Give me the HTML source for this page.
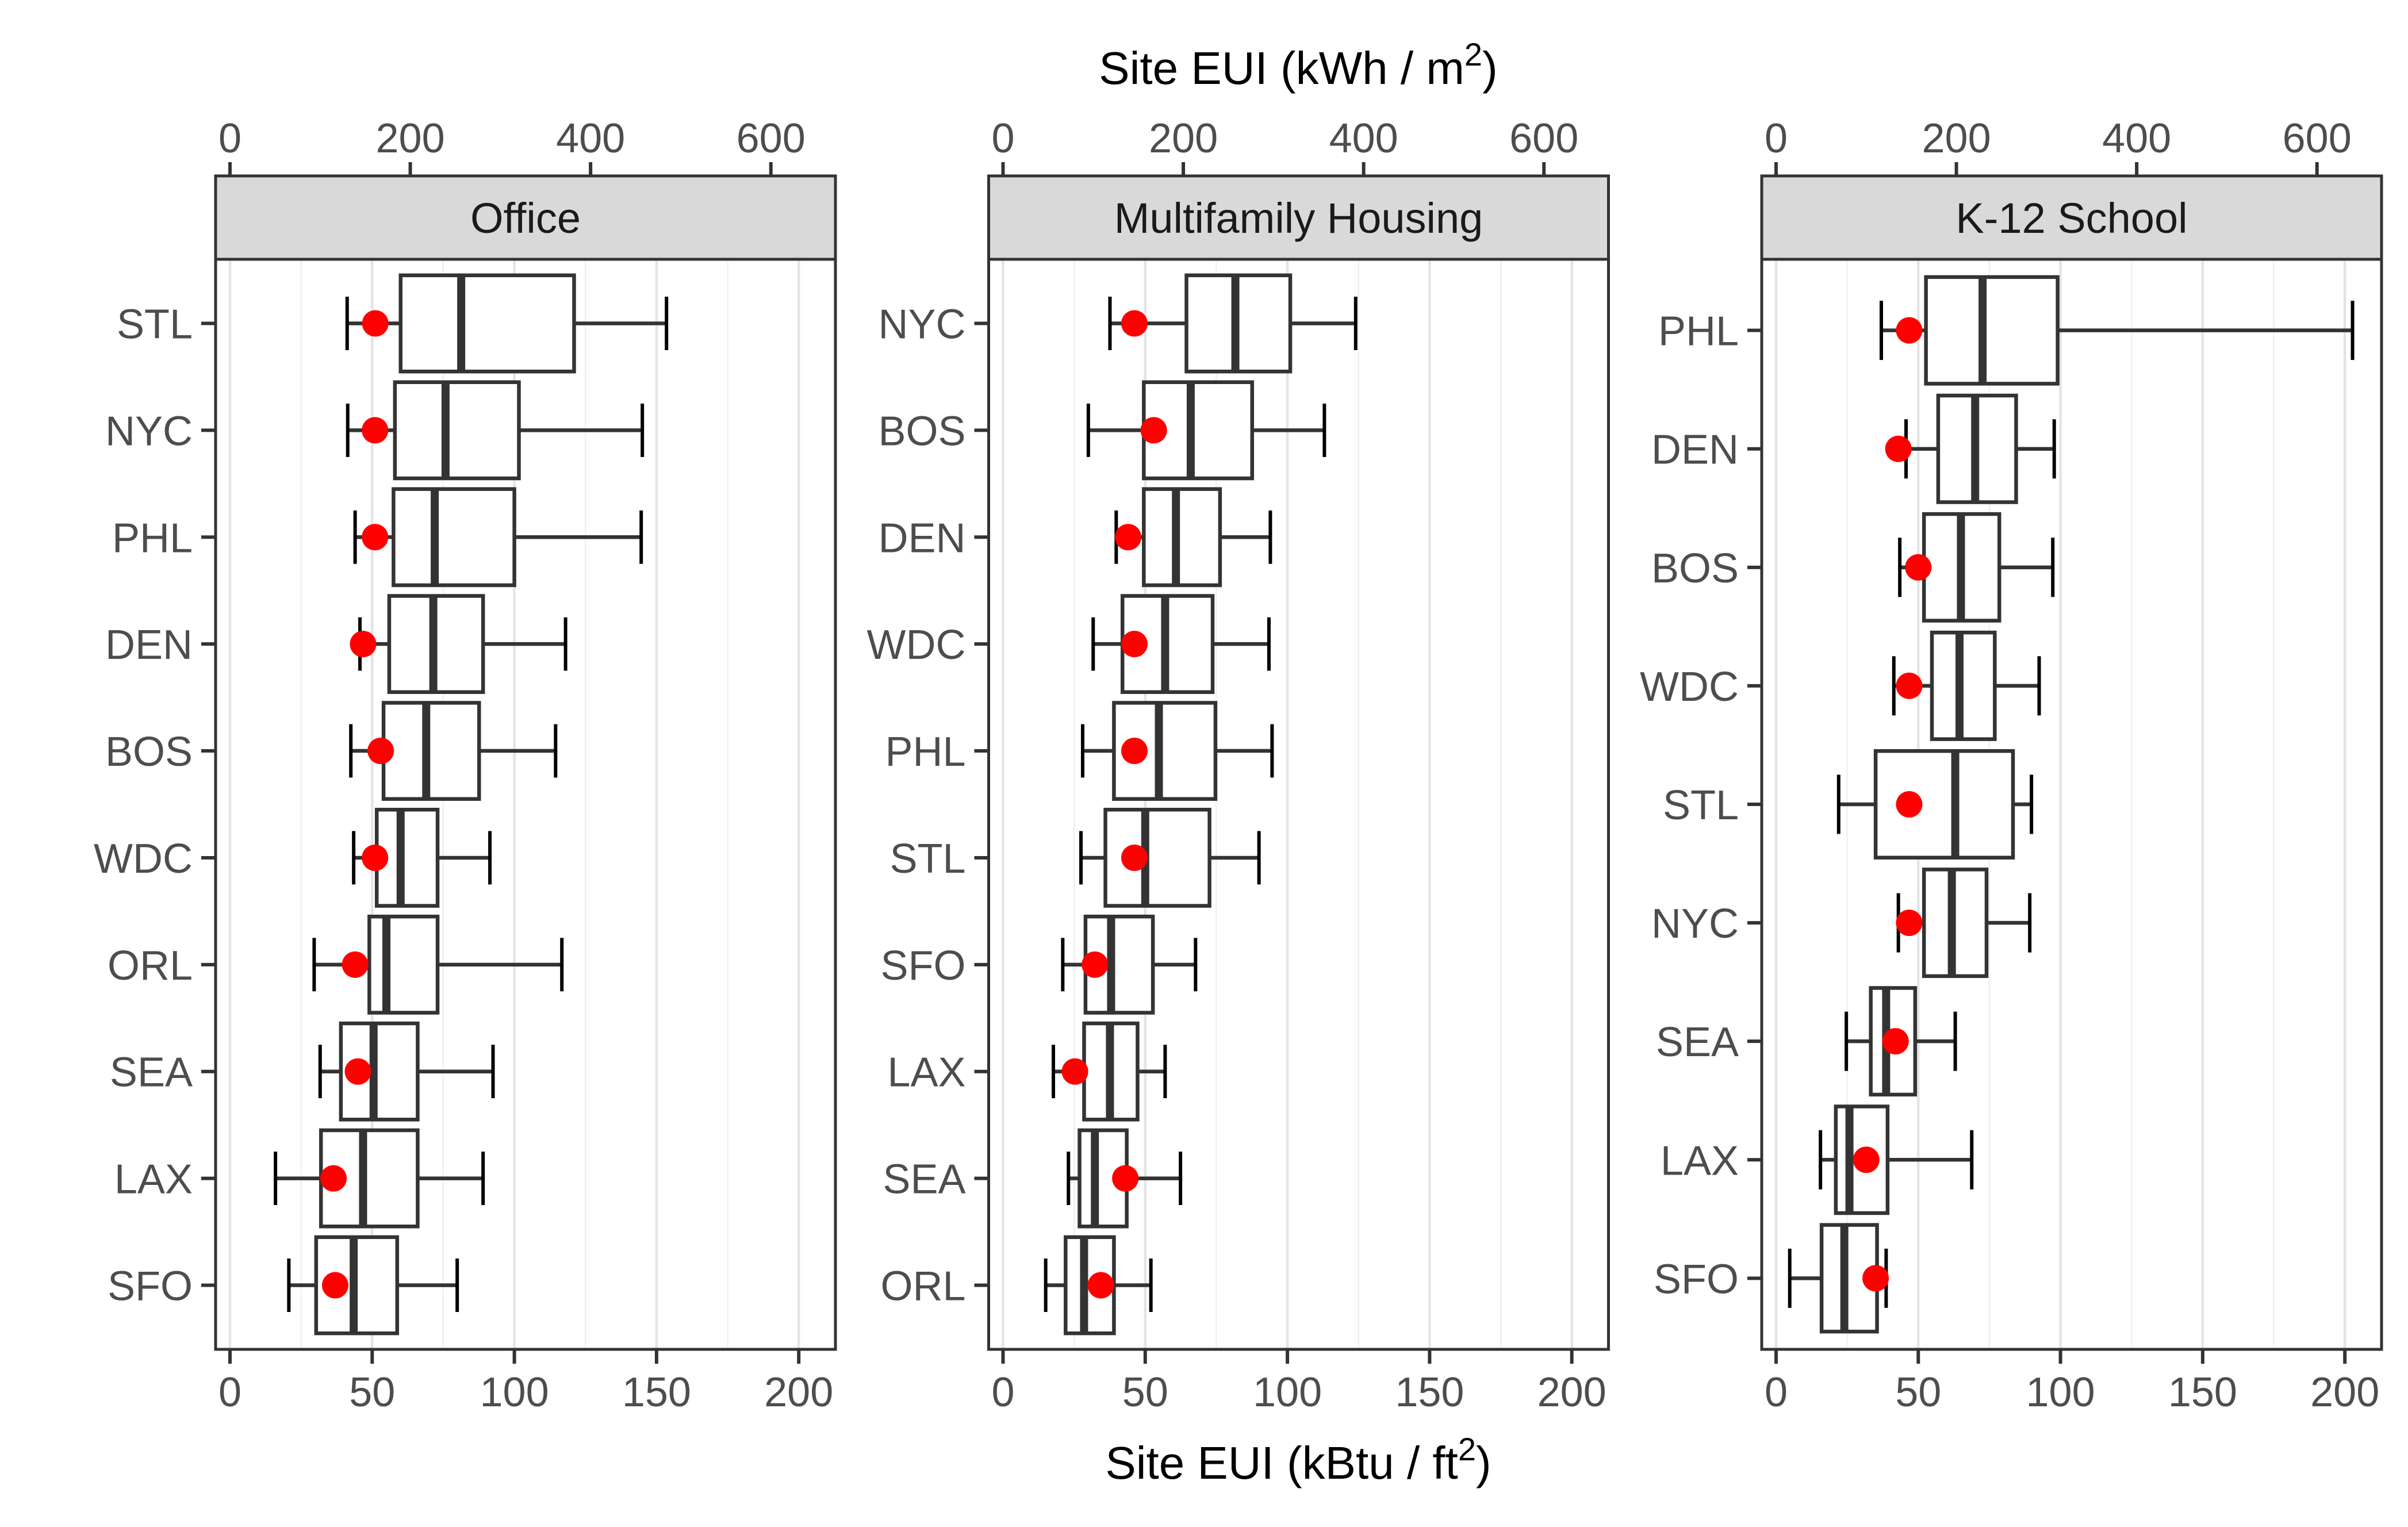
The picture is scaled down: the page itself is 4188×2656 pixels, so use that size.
<!DOCTYPE html>
<html><head><meta charset="utf-8"><style>
html,body{margin:0;padding:0;background:#fff;}
svg{display:block;font-family:"Liberation Sans",Arial,sans-serif;}
</style></head><body>
<svg id="chart" width="4188" height="2656" viewBox="0 0 4188 2656">
<text x="2258" y="146" text-anchor="middle" font-size="80" fill="#000">Site EUI (kWh / m<tspan font-size="56" dy="-32">2</tspan><tspan dy="32">)</tspan></text>
<text x="2258" y="2572" text-anchor="middle" font-size="80" fill="#000">Site EUI (kBtu / ft<tspan font-size="56" dy="-32">2</tspan><tspan dy="32">)</tspan></text>
<g id="panels"></g>
</svg>
<script>
const officeCities = ["STL","NYC","PHL","DEN","BOS","WDC","ORL","SEA","LAX","SFO"];
const officeLow  = [41.2,41.4,44,45.7,42.5,43.5,29.6,31.7,16,20.7];
const officeQ1   = [60,58,57.5,56,54,51.6,49,39,32,30.3];
const officeMed  = [81.3,75.8,72,71.5,69,60,55,50.5,46.8,43.5];
const officeQ3   = [121,101.6,100,89,87.6,73,73,66,66,58.8];
const officeHigh = [153.5,145,144.6,118,114.5,91.4,116.7,92.5,89,79.9];
const officeDot  = [51.1,51,51,46.8,53,51,44,45,36.4,37];

const mfCities = ["NYC","BOS","DEN","WDC","PHL","STL","SFO","LAX","SEA","ORL"];
const mfLow  = [37.6,30,39.8,31.7,28,27.4,21,17.7,23,15];
const mfQ1   = [64.5,49.5,49.5,42,39,36,29,28.5,26.9,22];
const mfMed  = [81.7,66,60.8,57,54.8,50,38,37.6,32.3,28.5];
const mfQ3   = [101,87.6,76.3,73.7,74.7,72.6,52.7,47.3,43.5,39];
const mfHigh = [124,113,94,93.5,94.6,90,67.7,57,62.4,52];
const mfDot  = [46.2,53,44,46.2,46.2,46.2,32.3,25.3,43,34.4];

const k12Cities = ["PHL","DEN","BOS","WDC","STL","NYC","SEA","LAX","SFO"];
const k12Low  = [37,45.7,43.5,41.4,22,43,24.7,15.6,4.8];
const k12Q1   = [52.7,57,52,54.8,35,52,33.3,21,16];
const k12Med  = [72.6,70,65,64.5,63,61.8,38.7,25.8,24];
const k12Q3   = [99,84.4,78.5,76.9,83.3,74,48.9,39.2,35.5];
const k12High = [202.7,97.8,97.3,92.5,89.8,89.2,63,68.8,38.7];
const k12Dot  = [46.8,43,50,46.8,46.8,46.8,42,31.7,35];

const panelTitles = ["Office","Multifamily Housing","K-12 School"];
const bottomTicks = [0,50,100,150,200];
const topTicks = [0,200,400,600];
const minorTicks = [25,75,125,175];
const KWH_PER_KBTU = 3.15459;

const NS = "http://www.w3.org/2000/svg";
const root = document.getElementById("panels");
const PANEL_W = 1078, TOP = 451, BOT = 2347;
const XMIN = -5.05, XMAX = 212.9;

function mk(tag, attrs, parent){
  const e = document.createElementNS(NS, tag);
  for (const k in attrs) e.setAttribute(k, attrs[k]);
  parent.appendChild(e);
  return e;
}

const datasets = [
  [officeCities, officeLow, officeQ1, officeMed, officeQ3, officeHigh, officeDot],
  [mfCities, mfLow, mfQ1, mfMed, mfQ3, mfHigh, mfDot],
  [k12Cities, k12Low, k12Q1, k12Med, k12Q3, k12High, k12Dot]
];

datasets.forEach((ds, p) => {
  const [cities, low, q1, med, q3, high, dot] = ds;
  const L = 375 + p * 1344.5;
  const R = L + PANEL_W;
  const xs = v => L + (v - XMIN) / (XMAX - XMIN) * PANEL_W;
  const n = cities.length;
  const step = (BOT - TOP) / (n + 0.2);
  const ys = i => BOT - ((n - i) - 0.4) * step;

  const g = mk("g", {}, root);
  
  

  minorTicks.forEach(t => {
    const l = mk("line", {x1: xs(t), x2: xs(t), y1: TOP, y2: BOT, stroke: "#f0f0f0", "stroke-width": 2.5}, g);
    
    
  });
  bottomTicks.forEach(t => {
    const l = mk("line", {x1: xs(t), x2: xs(t), y1: TOP, y2: BOT, stroke: "#e4e4e4", "stroke-width": 4.5}, g);
    
    
  });

  const strip = mk("rect", {x: L, y: 306, width: PANEL_W, height: TOP - 306, fill: "#d9d9d9", stroke: "#333", "stroke-width": 5}, g);
  
  
  const st = mk("text", {x: (L + R) / 2, y: 405, "text-anchor": "middle", "font-size": 74, fill: "#1a1a1a"}, g);
  st.textContent = panelTitles[p];
  
  

  for (let i = 0; i < n; i++) {
    const y = ys(i);
    const hb = step * 0.45, hc = step * 0.25;
    const bg = mk("g", {}, g);
    
    
    const w1 = mk("line", {x1: xs(low[i]), x2: xs(q1[i]), y1: y, y2: y, stroke: "#333", "stroke-width": 6.5}, bg);
    
    
    const w2 = mk("line", {x1: xs(q3[i]), x2: xs(high[i]), y1: y, y2: y, stroke: "#333", "stroke-width": 6.5}, bg);
    
    
    const c1 = mk("line", {x1: xs(low[i]), x2: xs(low[i]), y1: y - hc, y2: y + hc, stroke: "#000", "stroke-width": 6}, bg);
    
    
    const c2 = mk("line", {x1: xs(high[i]), x2: xs(high[i]), y1: y - hc, y2: y + hc, stroke: "#000", "stroke-width": 6}, bg);
    
    
    const b = mk("rect", {x: xs(q1[i]), y: y - hb, width: xs(q3[i]) - xs(q1[i]), height: 2 * hb, fill: "#fff", stroke: "#333", "stroke-width": 6.5}, bg);
    
    
    const m = mk("line", {x1: xs(med[i]), x2: xs(med[i]), y1: y - hb, y2: y + hb, stroke: "#333", "stroke-width": 14}, bg);
    
    
    const d = mk("circle", {cx: xs(dot[i]), cy: y, r: 23, fill: "#ff0000"}, bg);
    
    

    const tk = mk("line", {x1: L - 25, x2: L, y1: y, y2: y, stroke: "#333", "stroke-width": 6}, g);
    
    
    const lb = mk("text", {x: L - 40, y: y + 26, "text-anchor": "end", "font-size": 72, fill: "#4d4d4d"}, g);
    lb.textContent = cities[i];
    
    
  }

  const pb = mk("rect", {x: L, y: TOP, width: PANEL_W, height: BOT - TOP, fill: "none", stroke: "#333", "stroke-width": 5}, g);
  
  

  bottomTicks.forEach(t => {
    const l = mk("line", {x1: xs(t), x2: xs(t), y1: BOT, y2: BOT + 25, stroke: "#333", "stroke-width": 6}, g);
    
    
    const tx = mk("text", {x: xs(t), y: 2446, "text-anchor": "middle", "font-size": 72, fill: "#4d4d4d"}, g);
    tx.textContent = t;
    
    
  });
  topTicks.forEach(t => {
    const xv = xs(t / KWH_PER_KBTU);
    const l = mk("line", {x1: xv, x2: xv, y1: 282, y2: 306, stroke: "#333", "stroke-width": 6}, g);
    
    
    const tx = mk("text", {x: xv, y: 265, "text-anchor": "middle", "font-size": 72, fill: "#4d4d4d"}, g);
    tx.textContent = t;
    
    
  });
});
</script>
</body></html>
